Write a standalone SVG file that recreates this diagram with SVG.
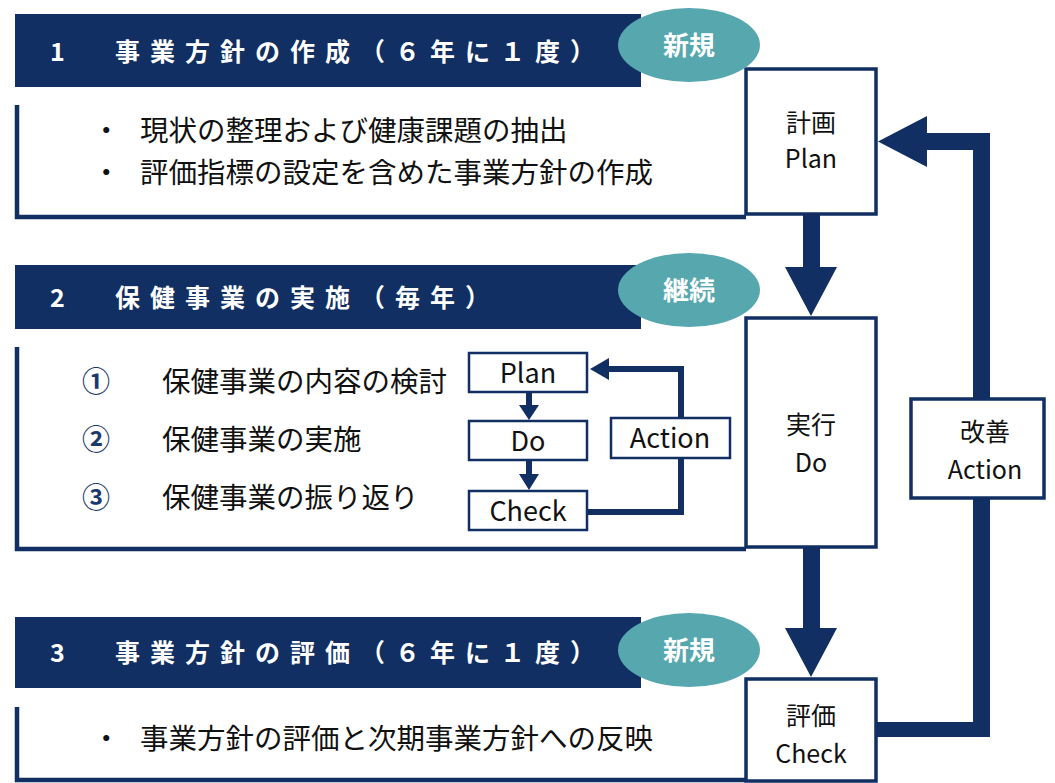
<svg xmlns="http://www.w3.org/2000/svg" width="1055" height="783" viewBox="0 0 1055 783">
<defs>
<style>
.bar{fill:#112f62}
.oval{fill:#56a7ae}
.hd{font-family:"Noto Sans CJK JP","Noto Sans",sans-serif;font-weight:bold;font-size:25px;fill:#ffffff;letter-spacing:10px}
.ov{font-family:"Noto Sans CJK JP","Noto Sans",sans-serif;font-weight:bold;font-size:26px;fill:#ffffff;text-anchor:middle}
.bd{font-family:"Noto Sans CJK JP","Noto Sans",sans-serif;font-size:28.5px;fill:#111111}
.num{font-family:"Noto Sans CJK JP","Noto Sans",sans-serif;font-size:28px;font-weight:bold;fill:#1b3a6b}
.bx{fill:#ffffff;stroke:#112f62;stroke-width:3.5}
.sbx{fill:#ffffff;stroke:#112f62;stroke-width:2.5}
.bt{font-family:"Noto Sans CJK JP","Noto Sans",sans-serif;font-size:25px;fill:#111111;text-anchor:middle}
.st{font-family:"Noto Sans CJK JP","Noto Sans",sans-serif;font-size:27px;fill:#111111;text-anchor:middle}
.frame{fill:none;stroke:#112f62;stroke-width:4.5}
.arr{fill:#112f62}
.ln{fill:none;stroke:#112f62;stroke-width:6}
</style>
</defs>
<rect width="1055" height="783" fill="#ffffff"/>

<g id="connectors">
<polygon class="arr" points="803,212 820,212 820,267 837,267 811,316 785,267 803,267"/>
<polygon class="arr" points="803,546 820,546 820,628 837,628 811,677 785,628 803,628"/>
<polygon class="arr" points="876,722 973,722 973,150 927,150 927,167 878,141.5 927,116 927,133 990,133 990,737 876,737"/>
<polyline class="ln" points="587,512 681,512 681,369 606,369"/>
<polygon class="arr" points="590,369 609,358 609,380"/>
<rect class="arr" x="526" y="392" width="6" height="14"/>
<polygon class="arr" points="519,405 539,405 529,420"/>
<rect class="arr" x="526" y="460" width="6" height="15"/>
<polygon class="arr" points="519,474 539,474 529,490"/>
</g>

<g id="section1">
<rect class="bar" x="15" y="14" width="626" height="73"/>
<text class="hd" x="50" y="61">1</text>
<text class="hd" x="115" y="61">事業方針の作成（６年に１度）</text>
<path class="frame" d="M17,105 V217 H746"/>
<text class="bd" x="92" y="141">・</text>
<text class="bd" x="140" y="141">現状の整理および健康課題の抽出</text>
<text class="bd" x="92" y="183">・</text>
<text class="bd" x="140" y="183">評価指標の設定を含めた事業方針の作成</text>
</g>

<g id="plan">
<rect class="bx" x="746" y="69" width="130" height="145"/>
<text class="bt" x="811" y="132">計画</text>
<text class="bt" x="811" y="168">Plan</text>
</g>
<g id="badge1">
<ellipse class="oval" cx="689" cy="45" rx="71" ry="37"/>
<text class="ov" x="689" y="55">新規</text>
</g>

<g id="section2">
<rect class="bar" x="15" y="265" width="626" height="64"/>
<text class="hd" x="50" y="307">2</text>
<text class="hd" x="115" y="307">保健事業の実施（毎年）</text>
<path class="frame" d="M17,347 V549 H746"/>
<text class="num" x="82" y="392">①</text>
<text class="bd" x="162" y="392">保健事業の内容の検討</text>
<text class="num" x="82" y="450">②</text>
<text class="bd" x="162" y="450">保健事業の実施</text>
<text class="num" x="82" y="508">③</text>
<text class="bd" x="162" y="508">保健事業の振り返り</text>
</g>

<g id="small-plan">
<rect class="sbx" x="469" y="353" width="118" height="39"/>
<text class="st" x="528" y="383">Plan</text>
</g>
<g id="small-do">
<rect class="sbx" x="469" y="421" width="118" height="39"/>
<text class="st" x="528" y="451">Do</text>
</g>
<g id="small-check">
<rect class="sbx" x="469" y="491" width="118" height="39"/>
<text class="st" x="528" y="521">Check</text>
</g>
<g id="small-action">
<rect class="sbx" x="611" y="418" width="119" height="40"/>
<text class="st" x="670" y="448">Action</text>
</g>

<g id="do">
<rect class="bx" x="746" y="318" width="130" height="229"/>
<text class="bt" x="811" y="434">実行</text>
<text class="bt" x="811" y="472">Do</text>
</g>
<g id="badge2">
<ellipse class="oval" cx="689" cy="290" rx="71" ry="37"/>
<text class="ov" x="689" y="300">継続</text>
</g>

<g id="action">
<rect class="bx" x="911" y="399" width="133" height="99"/>
<text class="bt" x="985" y="441">改善</text>
<text class="bt" x="985" y="479">Action</text>
</g>

<g id="section3">
<rect class="bar" x="15" y="617" width="626" height="71"/>
<text class="hd" x="50" y="662">3</text>
<text class="hd" x="115" y="662">事業方針の評価（６年に１度）</text>
<path class="frame" d="M17,707 V780 H746"/>
<text class="bd" x="92" y="749">・</text>
<text class="bd" x="140" y="749">事業方針の評価と次期事業方針への反映</text>
</g>

<g id="check">
<rect class="bx" x="746" y="679" width="130" height="102"/>
<text class="bt" x="811" y="725">評価</text>
<text class="bt" x="811" y="763">Check</text>
</g>
<g id="badge3">
<ellipse class="oval" cx="689" cy="650" rx="71" ry="37"/>
<text class="ov" x="689" y="660">新規</text>
</g>
</svg>
